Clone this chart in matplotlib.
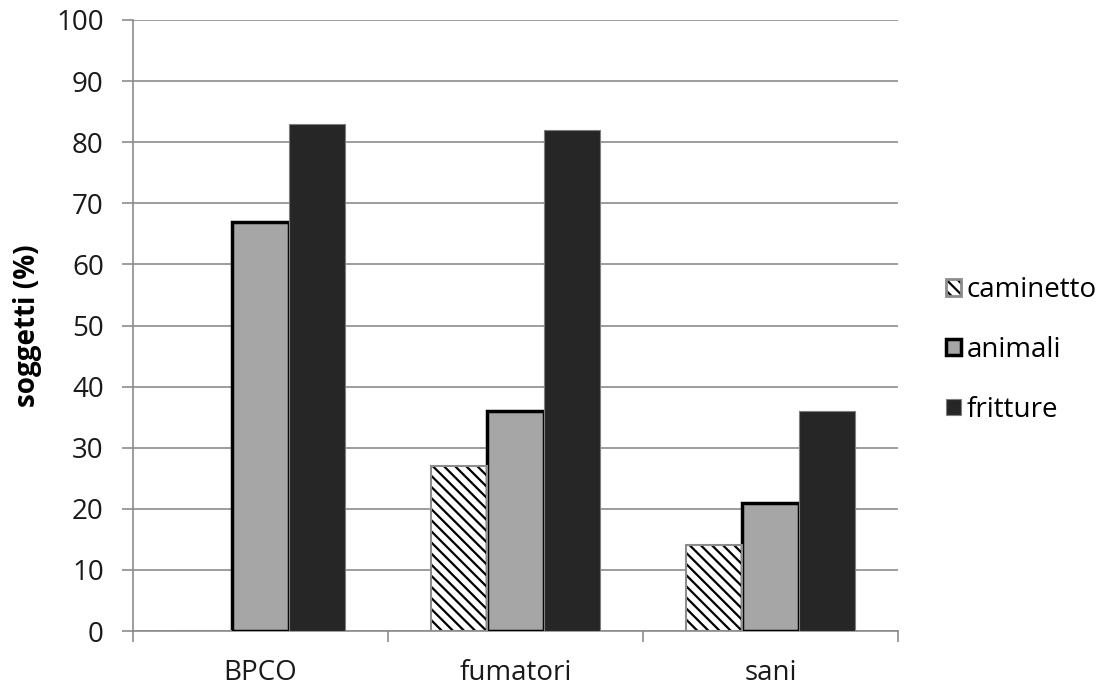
import matplotlib
matplotlib.use("Agg")
import matplotlib.pyplot as plt
from matplotlib.patches import Patch
from matplotlib.legend_handler import HandlerTuple
import numpy as np

categories = ['BPCO', 'fumatori', 'sani']
caminetto = [0, 27, 14]
animali = [67, 36, 21]
fritture = [83, 82, 36]
yticks = list(range(0, 101, 10))

plt.rcParams['font.family'] = ['Open Sans', 'DejaVu Sans']
plt.rcParams['hatch.linewidth'] = 1.6

fig = plt.figure(figsize=(11.16, 6.9), dpi=100)
ax = fig.add_axes([133/1116, 1 - 631/690, 765/1116, 611/690])

x = np.arange(len(categories))
w = 0.222
# hatch in black, then a gray outline on top
ax.bar(x - w, caminetto, w, color='white', edgecolor='black', linewidth=0,
       hatch='\\\\\\', zorder=3)
ax.bar(x - w, caminetto, w, fill=False, edgecolor='#8c8c8c', linewidth=1.5,
       zorder=4)
ax.bar(x, animali, w, color='#a6a6a6', edgecolor='black', linewidth=2.5,
       label='animali', zorder=3)
ax.bar(x + w, fritture, w, color='#262626', edgecolor='#7f7f7f', linewidth=0.8,
       label='fritture', zorder=3)

# legend proxy for the hatched series
h_hatch = Patch(facecolor='white', edgecolor='black', hatch='\\\\\\', linewidth=0)
h_edge = Patch(fill=False, edgecolor='#8c8c8c', linewidth=2)
handles, labels = ax.get_legend_handles_labels()

ax.set_xlim(-0.5, 2.5)
ax.set_ylim(0, 100)
ax.set_yticks(yticks)
ax.yaxis.grid(True, color='#8c8c8c', linewidth=1.2, zorder=0)
ax.set_xticks(x)
ax.set_xticklabels(categories)
ax.set_xticks([-0.5, 0.5, 1.5, 2.5], minor=True)
ax.tick_params(axis='x', which='major', length=0, pad=20, labelsize=20, labelcolor='#1a1a1a')
ax.tick_params(axis='x', which='minor', length=8, width=1.2, color='#8c8c8c')
ax.tick_params(axis='y', length=8, width=1.2, color='#8c8c8c', pad=13, labelsize=20, labelcolor='#1a1a1a')
for s in ['top', 'right']:
    ax.spines[s].set_visible(False)
for s in ['left', 'bottom']:
    ax.spines[s].set_color('#8c8c8c')
    ax.spines[s].set_linewidth(1.2)
ax.set_ylabel('soggetti (%)', fontsize=20, fontweight='bold', labelpad=10)

ax.legend([(h_hatch, h_edge)] + handles, ['caminetto'] + labels,
          handler_map={tuple: HandlerTuple(ndivide=1, pad=0)},
          loc='center left', bbox_to_anchor=(1.03, 0.46), frameon=False,
          fontsize=20, handlelength=0.55, handleheight=0.55, handletextpad=0.2,
          labelspacing=1.15)

fig.savefig('out.png', dpi=100)
